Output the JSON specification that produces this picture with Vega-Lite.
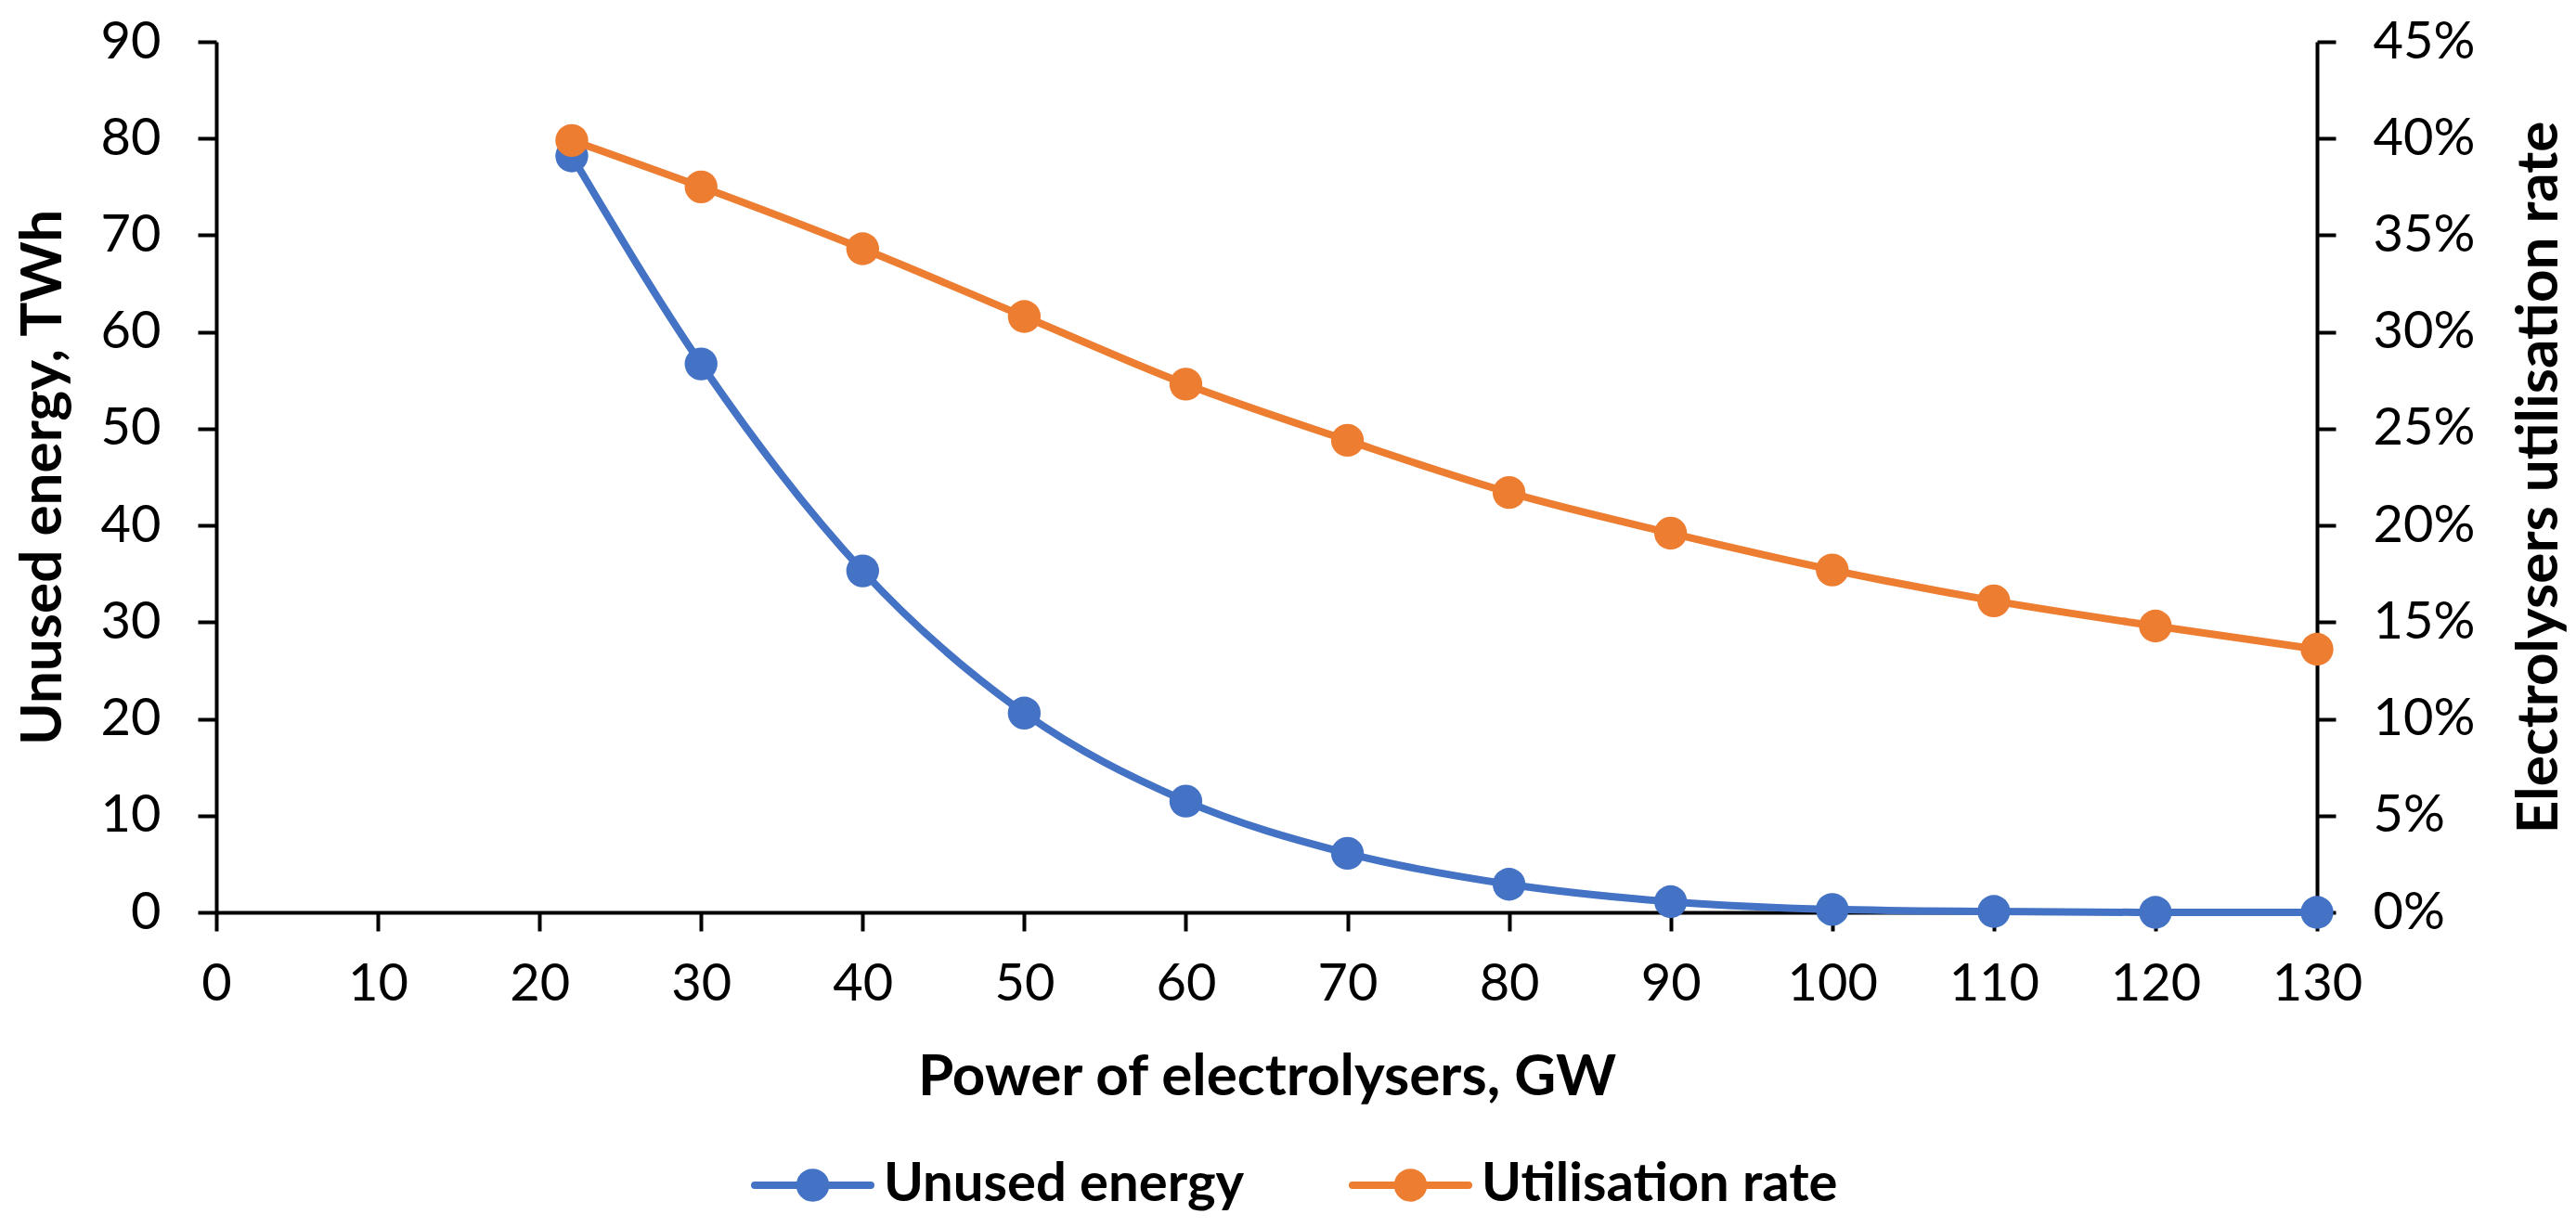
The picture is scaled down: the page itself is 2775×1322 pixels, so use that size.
{
  "$schema": "https://vega.github.io/schema/vega-lite/v6.json",
  "width": 2263,
  "height": 938,
  "autosize": {"type": "none"},
  "padding": {"left": 233, "top": 45, "right": 279, "bottom": 339},
  "background": "white",
  "config": {
    "view": {"stroke": null},
    "axis": {
      "labelFont": "Lato",
      "labelFontSize": 56,
      "labelColor": "black",
      "labelFlush": false,
      "titleFont": "Lato",
      "titleFontSize": 62,
      "titleFontWeight": "bold",
      "titleColor": "black",
      "domainColor": "black",
      "domainWidth": 4,
      "tickColor": "black",
      "tickWidth": 4,
      "tickSize": 20,
      "grid": false
    },
    "legend": {
      "labelFont": "Lato",
      "labelFontSize": 58,
      "labelFontWeight": "bold",
      "labelColor": "black",
      "labelLimit": 0
    }
  },
  "data": {
    "values": [
      {"gw": 22, "unused": 78.2, "util": 0.399},
      {"gw": 30, "unused": 56.7, "util": 0.375},
      {"gw": 40, "unused": 35.3, "util": 0.343},
      {"gw": 50, "unused": 20.6, "util": 0.308},
      {"gw": 60, "unused": 11.5, "util": 0.273},
      {"gw": 70, "unused": 6.1, "util": 0.244},
      {"gw": 80, "unused": 2.9, "util": 0.217},
      {"gw": 90, "unused": 1.1, "util": 0.196},
      {"gw": 100, "unused": 0.3, "util": 0.177},
      {"gw": 110, "unused": 0.1, "util": 0.161},
      {"gw": 120, "unused": 0.0, "util": 0.148},
      {"gw": 130, "unused": 0.0, "util": 0.136}
    ]
  },
  "encoding": {
    "x": {
      "field": "gw",
      "type": "quantitative",
      "title": "Power of electrolysers, GW",
      "scale": {"domain": [0, 130], "nice": false},
      "axis": {
        "values": [0, 10, 20, 30, 40, 50, 60, 70, 80, 90, 100, 110, 120, 130],
        "labelPadding": 30,
        "titlePadding": 42
      }
    },
    "color": {
      "type": "nominal",
      "scale": {
        "domain": ["Unused energy", "Utilisation rate"],
        "range": ["#4472C4", "#ED7D31"]
      },
      "legend": {
        "title": null,
        "orient": "none",
        "direction": "horizontal",
        "legendX": 576,
        "legendY": 1165,
        "symbolType": "M-1,0L1,0M0.22,0A0.22,0.22,0,1,1,-0.22,0A0.22,0.22,0,1,1,0.22,0Z",
        "symbolSize": 15625,
        "symbolStrokeWidth": 8,
        "labelOffset": 10,
        "columnPadding": 100,
        "encode": {
          "symbols": {
            "update": {
              "fill": {"scale": "color", "field": "value"},
              "stroke": {"scale": "color", "field": "value"},
              "strokeCap": {"value": "round"}
            }
          }
        }
      }
    }
  },
  "layer": [
    {
      "mark": {
        "type": "line",
        "interpolate": "monotone",
        "strokeWidth": 8,
        "point": {"filled": true, "size": 1250, "opacity": 1}
      },
      "encoding": {
        "y": {
          "field": "unused",
          "type": "quantitative",
          "title": "Unused energy, TWh",
          "scale": {"domain": [0, 90], "nice": false},
          "axis": {
            "orient": "left",
            "values": [0, 10, 20, 30, 40, 50, 60, 70, 80, 90],
            "labelPadding": 40,
            "titlePadding": 30
          }
        },
        "color": {"datum": "Unused energy"}
      }
    },
    {
      "mark": {
        "type": "line",
        "interpolate": "monotone",
        "strokeWidth": 8,
        "point": {"filled": true, "size": 1250, "opacity": 1}
      },
      "encoding": {
        "y": {
          "field": "util",
          "type": "quantitative",
          "title": "Electrolysers utilisation rate",
          "scale": {"domain": [0, 0.45], "nice": false},
          "axis": {
            "orient": "right",
            "format": ".0%",
            "values": [0, 0.05, 0.1, 0.15, 0.2, 0.25, 0.3, 0.35, 0.4, 0.45],
            "labelPadding": 40,
            "titlePadding": 40,
            "titleAngle": -90,
            "titleBaseline": "top"
          }
        },
        "color": {"datum": "Utilisation rate"}
      }
    }
  ],
  "resolve": {"scale": {"y": "independent"}}
}
